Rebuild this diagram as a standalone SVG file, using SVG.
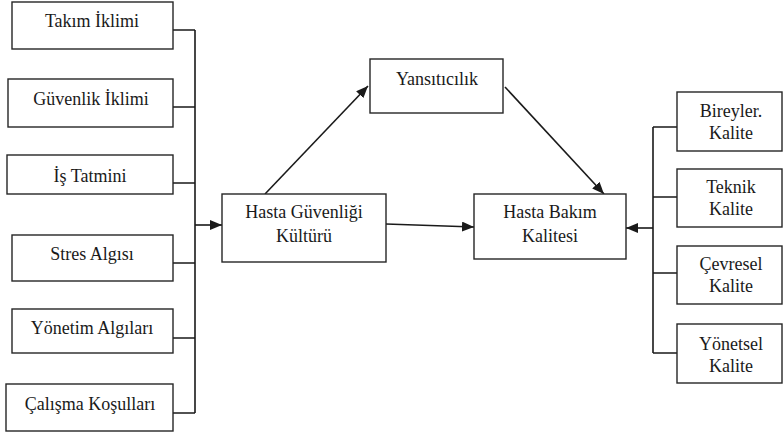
<svg xmlns="http://www.w3.org/2000/svg" width="783" height="435" viewBox="0 0 783 435">
  <style>
    .box { fill: #ffffff; stroke: #262626; stroke-width: 1.4; }
    .wire { fill: none; stroke: #1a1a1a; stroke-width: 1.6; }
  </style>
  <defs>
    <marker id="head" viewBox="0 0 12 10" refX="12" refY="5" markerWidth="12" markerHeight="10" markerUnits="userSpaceOnUse" orient="auto">
      <path d="M0,0 L12,5 L0,10 Z" fill="#1a1a1a"/>
    </marker>
  </defs>

  <rect width="783" height="435" fill="#ffffff"/>

  <!-- connectors -->
  <g id="connectors" class="wire">
    <!-- left bus -->
    <path d="M173,30 H195 M173,107 H195 M173,183 H195 M173,263 H195 M173,338 H195 M173,413 H195 M195,30 V413"/>
    <path d="M195,225 H222" marker-end="url(#head)"/>
    <!-- middle -->
    <path d="M265,194 L368,86" marker-end="url(#head)"/>
    <path d="M505,87 L604,194" marker-end="url(#head)"/>
    <path d="M386,224 L474,227" marker-end="url(#head)"/>
    <!-- right bus -->
    <path d="M677,127 H653 M677,197 H653 M677,273 H653 M677,353 H653 M653,127 V353"/>
    <path d="M653,228 H626" marker-end="url(#head)"/>
  </g>

  <g font-family="Liberation Serif, Tinos, DejaVu Serif, Noto Serif, Times New Roman, serif" font-size="18" fill="#1a1a1a" text-anchor="middle">
    <!-- left factors -->
    <g id="takim-iklimi">
      <rect class="box" x="12" y="2" width="161" height="47"/>
      <text x="92" y="27">Takım İklimi</text>
    </g>
    <g id="guvenlik-iklimi">
      <rect class="box" x="8" y="79" width="165" height="48"/>
      <text x="91" y="105">Güvenlik İklimi</text>
    </g>
    <g id="is-tatmini">
      <rect class="box" x="7" y="155" width="166" height="39"/>
      <text x="90" y="182">İş Tatmini</text>
    </g>
    <g id="stres-algisi">
      <rect class="box" x="12" y="235" width="161" height="46"/>
      <text x="92" y="260">Stres Algısı</text>
    </g>
    <g id="yonetim-algilari">
      <rect class="box" x="12" y="309" width="161" height="44"/>
      <text x="92" y="334">Yönetim Algıları</text>
    </g>
    <g id="calisma-kosullari">
      <rect class="box" x="6" y="384" width="167" height="47"/>
      <text x="90" y="410">Çalışma Koşulları</text>
    </g>

    <!-- central model -->
    <g id="hasta-guvenligi-kulturu">
      <rect class="box" x="222" y="194" width="164" height="68"/>
      <text x="304" y="218">Hasta Güvenliği</text>
      <text x="304" y="242">Kültürü</text>
    </g>
    <g id="yansiticilik">
      <rect class="box" x="370" y="59" width="133" height="54"/>
      <text x="437" y="85">Yansıtıcılık</text>
    </g>
    <g id="hasta-bakim-kalitesi">
      <rect class="box" x="474" y="194" width="152" height="65"/>
      <text x="550" y="218">Hasta Bakım</text>
      <text x="550" y="242">Kalitesi</text>
    </g>

    <!-- quality dimensions -->
    <g id="bireysel-kalite">
      <rect class="box" x="677" y="92" width="105" height="59"/>
      <text x="731" y="117">Bireyler.</text>
      <text x="731" y="139">Kalite</text>
    </g>
    <g id="teknik-kalite">
      <rect class="box" x="677" y="169" width="105" height="58"/>
      <text x="731" y="193">Teknik</text>
      <text x="731" y="215">Kalite</text>
    </g>
    <g id="cevresel-kalite">
      <rect class="box" x="677" y="246" width="105" height="58"/>
      <text x="731" y="270">Çevresel</text>
      <text x="731" y="292">Kalite</text>
    </g>
    <g id="yonetsel-kalite">
      <rect class="box" x="677" y="324" width="105" height="59"/>
      <text x="731" y="350">Yönetsel</text>
      <text x="731" y="372">Kalite</text>
    </g>
  </g>
</svg>
